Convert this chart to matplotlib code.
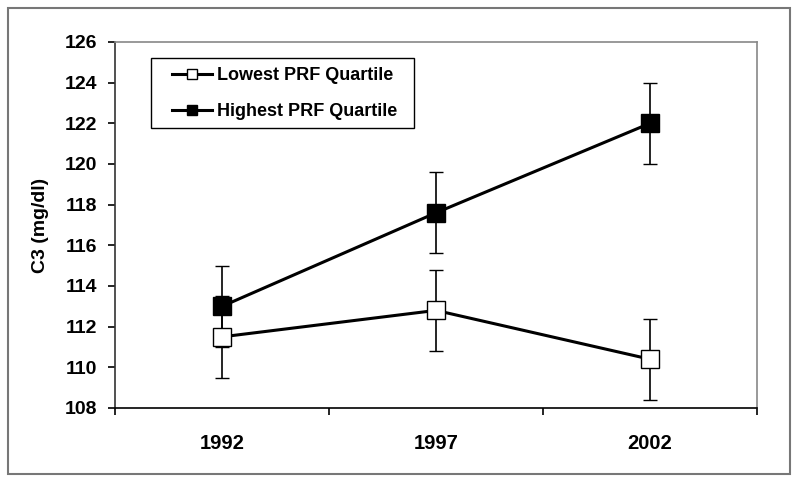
import matplotlib.pyplot as plt
from matplotlib.patches import Rectangle
from matplotlib.lines import Line2D

plt.rcParams['font.family'] = ['Liberation Sans', 'DejaVu Sans']
plt.rcParams['font.weight'] = 'bold'

# data
years = ['1992', '1997', '2002']
lowest = [111.5, 112.8, 110.4]
lowest_err = [2.0, 2.0, 2.0]
highest = [113.0, 117.6, 122.0]
highest_err = [2.0, 2.0, 2.0]
yticks = [108, 110, 112, 114, 116, 118, 120, 122, 124, 126]

fig = plt.figure(figsize=(8, 4.83), dpi=100)
ax = fig.add_axes([115/800, 1 - 408/483, 642/800, 366/483])

x = list(range(len(years)))
ax.errorbar(x, lowest, yerr=lowest_err, color='black', lw=2.2, marker='s', ms=13,
            mfc='white', mec='black', mew=1, elinewidth=1.2, capsize=5, capthick=1.2,
            zorder=3)
ax.errorbar(x, highest, yerr=highest_err, color='black', lw=2.2, marker='s', ms=13,
            mfc='black', mec='black', mew=1, elinewidth=1.2, capsize=5, capthick=1.2,
            zorder=3)

ax.set_xlim(-0.5, 2.5)
ax.set_ylim(108, 126)
ax.set_yticks(yticks)
ax.set_xticks(x)
ax.set_xticklabels(years)
ax.set_xticks([-0.5, 0.5, 1.5, 2.5], minor=True)
ax.tick_params(axis='x', which='major', length=0, pad=19, labelsize=14.5)
ax.tick_params(axis='x', which='minor', length=5, width=1.2, direction='out')
ax.tick_params(axis='y', length=5, width=1.2, direction='out', pad=8, labelsize=14)
ax.set_ylabel('C3 (mg/dl)', fontsize=14, fontweight='bold', labelpad=11)

for side in ['top', 'right']:
    ax.spines[side].set_color('#888888')
    ax.spines[side].set_linewidth(1.2)
ax.spines['left'].set_color('#333333')
ax.spines['left'].set_linewidth(1.2)
ax.spines['bottom'].set_color('black')
ax.spines['bottom'].set_linewidth(1.2)

handles = [
    Line2D([], [], color='black', lw=2.2, marker='s', ms=7, mfc='white', mec='black', mew=1),
    Line2D([], [], color='black', lw=2.2, marker='s', ms=7, mfc='black', mec='black', mew=1),
]
labels = ['Lowest PRF Quartile', 'Highest PRF Quartile']
leg = ax.legend(handles, labels, loc='upper left', bbox_to_anchor=(172/800, 1 - 67/483),
                bbox_transform=fig.transFigure, borderaxespad=0, borderpad=0,
                frameon=False, fontsize=13, handlelength=2.2, handletextpad=0.3,
                labelspacing=1.08)

# legend frame
fig.patches.append(Rectangle((151/800, 1 - 128/483), 263/800, 70/483,
                             transform=fig.transFigure, fill=False,
                             edgecolor='black', lw=1))

# outer border
fig.patches.append(Rectangle((8/800, 1 - 474/483), 782/800, 466/483,
                             transform=fig.transFigure, fill=False,
                             edgecolor='#777777', lw=1.5))

fig.savefig('out.png', dpi=100)
